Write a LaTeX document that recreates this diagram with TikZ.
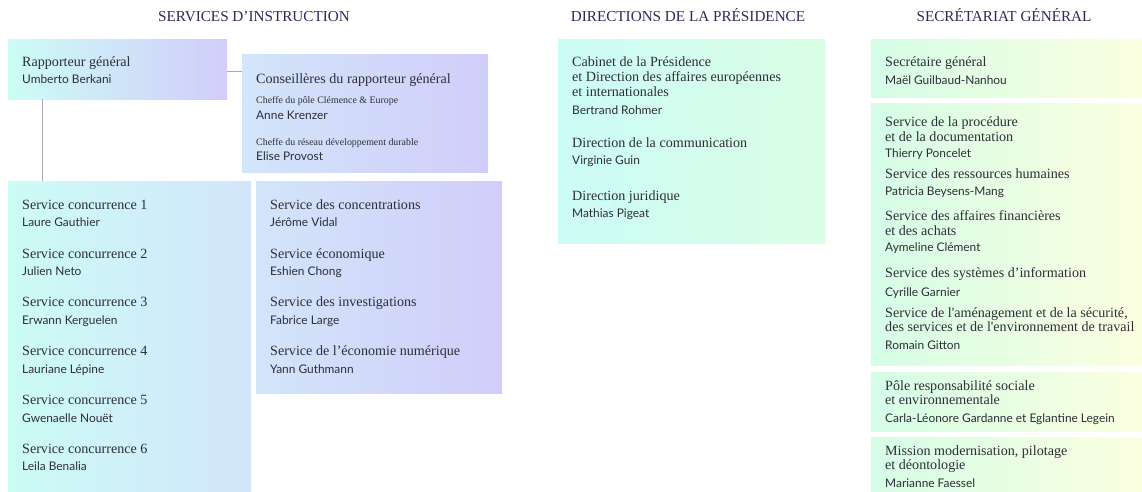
\documentclass[tikz,border=0pt]{standalone}
\usepackage{fontspec}
\newfontfamily\ttlf{Liberation Serif}
\newfontfamily\nmff{Lato}
\definecolor{headc}{HTML}{2B2B5C}
\definecolor{txtc}{HTML}{2E2E38}
\definecolor{connc}{HTML}{A9A8C2}
\definecolor{cyanc}{HTML}{CCFCF6}
\definecolor{bluec}{HTML}{D2E5FA}
\definecolor{lavc}{HTML}{D1CDFA}
\definecolor{mintc}{HTML}{DAFEE4}
\definecolor{greenc}{HTML}{D5FDE6}
\definecolor{yellc}{HTML}{FBFFE0}
\begin{document}
\begin{tikzpicture}[x=1pt,y=-1pt,
  box/.style={shade, shading angle=90, draw=none, inner sep=0, outer sep=0, anchor=north west},
  hd/.style={font=\ttlf\fontsize{15.2}{17}\selectfont, text=headc, anchor=base, inner sep=0},
  tt/.style={font=\ttlf\fontsize{14.1}{16}\selectfont, text=txtc, anchor=base west, inner sep=0},
  nm/.style={font=\nmff\fontsize{11.9}{14}\selectfont, text=txtc, anchor=base west, inner sep=0},
  sm/.style={font=\ttlf\fontsize{9.9}{11}\selectfont, text=txtc, anchor=base west, inner sep=0},
  conn/.style={draw=connc, line width=1pt}]
\useasboundingbox (0,0) rectangle (1142,491);
% headers
\node[hd] (h1) at (254,21) {SERVICES D’INSTRUCTION};
\node[hd] (h2) at (688,21) {DIRECTIONS DE LA PRÉSIDENCE};
\node[hd] (h3) at (1004,21) {SECRÉTARIAT GÉNÉRAL};
% boxes
\node[box, left color=cyanc, right color=lavc, minimum width=219, minimum height=60] (rap) at (8,39) {};
\node[box, left color=bluec, right color=lavc, minimum width=246, minimum height=118] (cons) at (242,54) {};
\node[box, left color=cyanc, right color=bluec, minimum width=243, minimum height=310] (conc) at (8,181) {};
\node[box, left color=bluec, right color=lavc, minimum width=246, minimum height=212] (svc) at (256,181) {};
\node[box, left color=cyanc, right color=mintc, minimum width=267, minimum height=204] (dir) at (558,39) {};
\node[box, left color=greenc, right color=yellc, minimum width=271, minimum height=58] (sg1) at (871,39) {};
\node[box, left color=greenc, right color=yellc, minimum width=271, minimum height=262] (sg2) at (871,103) {};
\node[box, left color=greenc, right color=yellc, minimum width=271, minimum height=59] (sg3) at (871,372) {};
\node[box, left color=greenc, right color=yellc, minimum width=271, minimum height=54] (sg4) at (871,437) {};
% connectors
\draw[conn] ([yshift=-2pt]rap.east) -- ([yshift=-2pt]rap.east -| cons.west);
\draw[conn] ([xshift=34pt]rap.south west) -- ([xshift=34pt]rap.south west |- conc.north);
% rapporteur
\node[tt] (rapt) at (22,66) {Rapporteur général};
\node[nm] (rapn) at (22,83) {Umberto Berkani};
% conseilleres
\node[tt] (const) at (256,83) {Conseillères du rapporteur général};
\node[sm] (conss1) at (256,103) {Cheffe du pôle Clémence \& Europe};
\node[nm] (consn1) at (256,119) {Anne Krenzer};
\node[sm] (conss2) at (256,145) {Cheffe du réseau développement durable};
\node[nm] (consn2) at (256,160) {Elise Provost};
% concurrence
\node[tt] (c1t) at (22,209) {Service concurrence 1};
\node[nm] (c1n) at (22,226) {Laure Gauthier};
\node[tt] (c2t) at (22,258) {Service concurrence 2};
\node[nm] (c2n) at (22,275) {Julien Neto};
\node[tt] (c3t) at (22,306) {Service concurrence 3};
\node[nm] (c3n) at (22,324) {Erwann Kerguelen};
\node[tt] (c4t) at (22,355) {Service concurrence 4};
\node[nm] (c4n) at (22,373) {Lauriane Lépine};
\node[tt] (c5t) at (22,404) {Service concurrence 5};
\node[nm] (c5n) at (22,422) {Gwenaelle Nouët};
\node[tt] (c6t) at (22,453) {Service concurrence 6};
\node[nm] (c6n) at (22,470) {Leila Benalia};
% services
\node[tt] (s1t) at (270,209) {Service des concentrations};
\node[nm] (s1n) at (270,226) {Jérôme Vidal};
\node[tt] (s2t) at (270,258) {Service économique};
\node[nm] (s2n) at (270,275) {Eshien Chong};
\node[tt] (s3t) at (270,306) {Service des investigations};
\node[nm] (s3n) at (270,324) {Fabrice Large};
\node[tt] (s4t) at (270,355) {Service de l’économie numérique};
\node[nm] (s4n) at (270,373) {Yann Guthmann};
% directions
\node[tt] (d1a) at (572,66) {Cabinet de la Présidence};
\node[tt] (d1b) at (572,81) {et Direction des affaires européennes};
\node[tt] (d1c) at (572,96) {et internationales};
\node[nm] (d1n) at (572,114) {Bertrand Rohmer};
\node[tt] (d2t) at (572,147) {Direction de la communication};
\node[nm] (d2n) at (572,164) {Virginie Guin};
\node[tt] (d3t) at (572,200) {Direction juridique};
\node[nm] (d3n) at (572,217) {Mathias Pigeat};
% secretariat
\node[tt] (g1t) at (885,66) {Secrétaire général};
\node[nm] (g1n) at (885,84) {Maël Guilbaud-Nanhou};
\node[tt] (g2a) at (885,126) {Service de la procédure};
\node[tt] (g2b) at (885,141) {et de la documentation};
\node[nm] (g2n) at (885,157) {Thierry Poncelet};
\node[tt] (g3t) at (885,178) {Service des ressources humaines};
\node[nm] (g3n) at (885,195) {Patricia Beysens-Mang};
\node[tt] (g4a) at (885,220) {Service des affaires financières};
\node[tt] (g4b) at (885,235) {et des achats};
\node[nm] (g4n) at (885,251) {Aymeline Clément};
\node[tt] (g5t) at (885,277) {Service des systèmes d’information};
\node[nm] (g5n) at (885,296) {Cyrille Garnier};
\node[tt] (g6a) at (885,317) {Service de l'aménagement et de la sécurité,};
\node[tt] (g6b) at (885,331) {des services et de l'environnement de travail};
\node[nm] (g6n) at (885,349) {Romain Gitton};
\node[tt] (g7a) at (885,390) {Pôle responsabilité sociale};
\node[tt] (g7b) at (885,404) {et environnementale};
\node[nm] (g7n) at (885,422) {Carla-Léonore Gardanne et Eglantine Legein};
\node[tt] (g8a) at (885,455) {Mission modernisation, pilotage};
\node[tt] (g8b) at (885,469) {et déontologie};
\node[nm] (g8n) at (885,487) {Marianne Faessel};
\end{tikzpicture}
\end{document}
